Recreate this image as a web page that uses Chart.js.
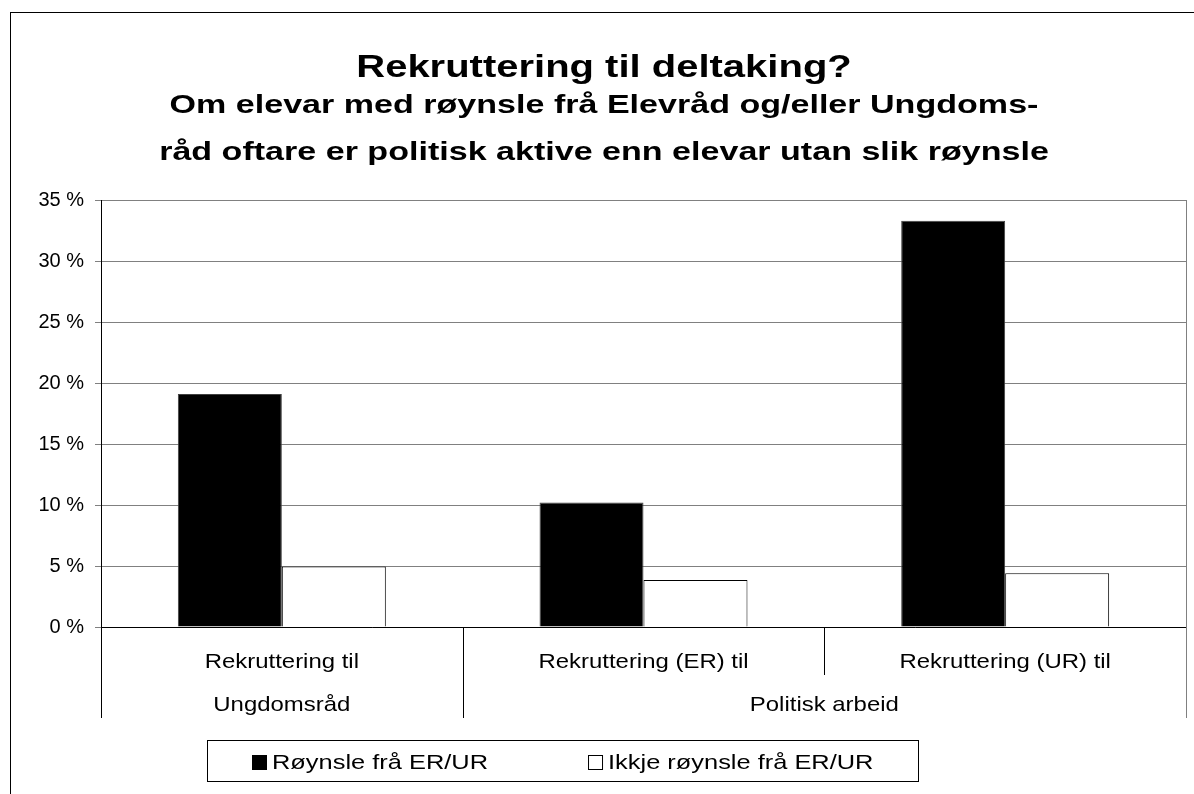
<!DOCTYPE html>
<html lang="nn">
<head>
<meta charset="utf-8">
<title>Rekruttering til deltaking?</title>
<script src="https://cdn.jsdelivr.net/npm/chart.js@4"></script>
<style>
  html, body { margin: 0; padding: 0; background: #fff; }
  canvas { display: block; }
</style>
</head>
<body>
<canvas id="barChart" width="1194" height="794"></canvas>
<script>
const title = "Rekruttering til deltaking?";
const subtitleLines = [
  "Om elevar med røynsle frå Elevråd og/eller Ungdoms-",
  "råd oftare er politisk aktive enn elevar utan slik røynsle",
];
const categories = ["Rekruttering til", "Rekruttering (ER) til", "Rekruttering (UR) til"];
const groups = ["Ungdomsråd", "Politisk arbeid"];
const groupSpans = [1, 2];
const seriesNames = ["Røynsle frå ER/UR", "Ikkje røynsle frå ER/UR"];
const withExperience = [19.1, 10.2, 33.3];
const withoutExperience = [4.95, 3.85, 4.4];
const yTicks = [0, 5, 10, 15, 20, 25, 30, 35];

const FONT = "\"Liberation Sans\", Arial, sans-serif";

// the original text is drawn a bit wider than the font, so scale it horizontally
function stretchedText(ctx, text, x, y, align, stretch) {
  ctx.save();
  ctx.translate(x, y);
  ctx.scale(stretch, 1);
  ctx.textAlign = align;
  ctx.textBaseline = "alphabetic";
  ctx.fillText(text, 0, 0);
  ctx.restore();
}

function line(ctx, x1, y1, x2, y2) {
  ctx.beginPath();
  ctx.moveTo(x1, y1);
  ctx.lineTo(x2, y2);
  ctx.stroke();
}

const excelFrame = {
  id: "excelFrame",
  afterDraw(chart) {
    const ctx = chart.ctx;
    const area = chart.chartArea;
    const xScale = chart.scales.x;
    ctx.save();
    ctx.lineWidth = 1;

    // outer frame (only top and left are inside the picture)
    ctx.strokeStyle = "#000";
    ctx.strokeRect(10.5, 12.5, chart.width, chart.height);

    // titles
    ctx.fillStyle = "#000";
    const mid = 604;
    ctx.font = "bold 31px " + FONT;
    stretchedText(ctx, title, mid, 77, "center", 1.29);
    ctx.font = "bold 26px " + FONT;
    subtitleLines.forEach((text, i) => {
      stretchedText(ctx, text, mid, 113 + i * 47, "center", 1.31);
    });

    // right edge of the plot area
    ctx.strokeStyle = "#808080";
    const right = Math.round(area.right) + 0.5;
    line(ctx, right, area.top, right, area.bottom);

    // category / group dividers below the axis
    const step = xScale.getPixelForValue(1) - xScale.getPixelForValue(0);
    const first = xScale.getPixelForValue(0) - step / 2;
    const groupEdges = [0];
    groupSpans.forEach((span) => groupEdges.push(groupEdges[groupEdges.length - 1] + span));
    for (let k = 0; k <= categories.length; k++) {
      const bx = Math.round(first + k * step) + 0.5;
      const bottom = groupEdges.includes(k) ? xScale.bottom : xScale.top + 48;
      ctx.strokeStyle = k === categories.length ? "#808080" : "#000";
      line(ctx, bx, xScale.top, bx, bottom);
    }

    // category labels, first row
    ctx.font = "21px " + FONT;
    categories.forEach((cat, i) => {
      stretchedText(ctx, cat, xScale.getPixelForValue(i), xScale.top + 41, "center", 1.14);
    });

    // group labels, second row
    groups.forEach((grp, g) => {
      const from = groupEdges[g];
      const to = groupEdges[g + 1] - 1;
      const cx = (xScale.getPixelForValue(from) + xScale.getPixelForValue(to)) / 2;
      stretchedText(ctx, grp, cx, xScale.top + 84, "center", 1.14);
    });

    // legend in a framed box
    const sx = 1.21;
    const box = 15;
    const gapText = 5;
    const pad = 45;
    const gapItems = 100;
    const datasets = chart.data.datasets;
    const widths = datasets.map((ds) => ctx.measureText(ds.label).width * sx);
    let total = pad * 2 + gapItems * (datasets.length - 1);
    widths.forEach((w) => { total += box + gapText + w; });
    const left = Math.round(563 - total / 2);
    const top = 740;
    ctx.strokeStyle = "#000";
    ctx.strokeRect(left + 0.5, top + 0.5, Math.round(total), 41);
    let cx = left + pad;
    datasets.forEach((ds, i) => {
      ctx.fillStyle = ds.backgroundColor;
      ctx.fillRect(cx, top + 15, box, box);
      ctx.strokeStyle = "#000";
      ctx.strokeRect(cx + 0.5, top + 15.5, box - 1, box - 1);
      ctx.fillStyle = "#000";
      stretchedText(ctx, ds.label, cx + box + gapText, top + 29, "left", sx);
      cx += box + gapText + widths[i] + gapItems;
    });

    ctx.restore();
  },
};

new Chart(document.getElementById("barChart"), {
  type: "bar",
  data: {
    labels: categories,
    datasets: [
      {
        label: seriesNames[0],
        data: withExperience,
        backgroundColor: "#000",
        borderColor: "#404040",
        borderWidth: 1,
      },
      {
        label: seriesNames[1],
        data: withoutExperience,
        backgroundColor: "#fff",
        borderColor: "#000",
        borderWidth: 1,
      },
    ],
  },
  options: {
    responsive: false,
    animation: false,
    devicePixelRatio: 1,
    layout: { padding: { top: 200, right: 8, bottom: 76, left: 0 } },
    datasets: { bar: { categoryPercentage: 0.575, barPercentage: 1 } },
    plugins: {
      legend: { display: false },
      title: { display: false },
      tooltip: { enabled: false },
    },
    scales: {
      x: {
        grid: { display: false },
        border: { color: "#000" },
        ticks: { display: false },
        afterFit: (scale) => { scale.height = 91; },
      },
      y: {
        min: 0,
        max: 35,
        afterFit: (scale) => { scale.width = 101; },
        afterBuildTicks: (scale) => { scale.ticks = yTicks.map((v) => ({ value: v })); },
        grid: { color: "#808080", tickLength: 6 },
        border: { color: "#000" },
        ticks: {
          color: "#000",
          padding: 11,
          font: { family: FONT, size: 20 },
          callback: (v) => v + " %",
        },
      },
    },
  },
  plugins: [excelFrame],
});
</script>
</body>
</html>
